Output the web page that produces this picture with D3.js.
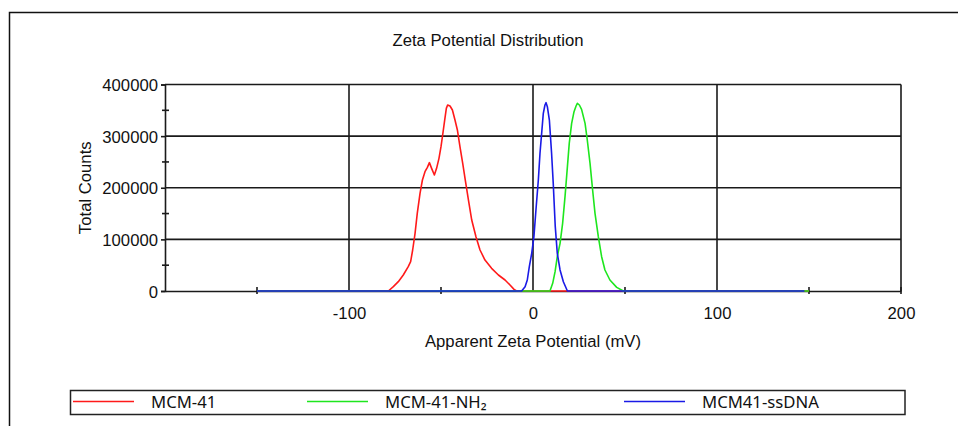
<!DOCTYPE html>
<html>
<head>
<meta charset="utf-8">
<script src="https://cdn.jsdelivr.net/npm/d3@7"></script>
<style>
	body { margin: 0; background: #fff; }
	svg { display: block; }
	.chart-text { font-family: "Liberation Sans", Arial, sans-serif; fill: #111; font-size: 16.7px; }
	.legend-text { font-family: "Noto Sans", "Open Sans", sans-serif; fill: #111; font-size: 16.7px; }
</style>
</head>
<body>
<div id="chart"></div>
<script>
// values
const seriesNames = ['MCM-41', 'MCM-41-NH\u2082', 'MCM41-ssDNA'];
const seriesColors = ['#ff1a1a', '#1ee61e', '#1a1ae6'];

const mcm41X = [-150, -78.6, -75.9, -73.2, -70.5, -67.8, -66.5, -65.4, -64.1, -62.9, -61.4, -60.1, -58.7, -57.4, -56.3,
	-55.1, -53.6, -52.4, -51.1, -50.0, -49.1, -48.0, -47.1, -46.4, -45.1, -43.8, -42.4, -41.1, -39.7, -38.2, -36.8,
	-35.1, -33.3, -31.0, -28.8, -26.1, -22.5, -18.8, -15.2, -12.5, -10.3, -8.9, 150];
const mcm41Y = [0, 0, 8400, 18100, 31000, 47100, 56800, 79400, 111700, 150400, 189200, 215000, 231100, 239500, 248600,
	237600, 224700, 237600, 257000, 279600, 302200, 331200, 353800, 360300, 358300, 350600, 331200, 311900, 279600, 247300, 215000,
	176300, 137500, 105200, 79400, 60000, 43900, 31000, 21300, 11600, 3200, 0, 0];

const nh2X = [-150, 9.2, 10.7, 12.0, 13.2, 14.7, 16.1, 17.4, 18.7, 19.7, 21.0, 22.3, 23.4, 24.1, 25.2, 26.4,
	28.3, 29.5, 31.0, 32.4, 33.7, 35.5, 37.3, 39.1, 41.8, 45.5, 49.1, 150];
const nh2Y = [0, 0, 14900, 37400, 66500, 92300, 131000, 182700, 240800, 286000, 324800, 347300, 358300, 363500, 360300, 351900,
	324800, 292500, 247300, 195600, 150500, 105200, 66400, 40700, 21300, 7100, 0, 0];

const ssdnaX = [-150, -6.2, -4.3, -3.1, -2.0, -0.7, 0.5, 1.6, 2.9, 3.8, 4.7, 5.6, 6.5, 7.1, 7.8, 8.9,
	10.1, 11.0, 12.1, 13.2, 14.7, 16.5, 18.7, 147.5];
const ssdnaY = [0, 0, 8400, 21300, 47100, 73000, 105200, 156900, 215000, 266700, 305400, 344200, 360300, 364800, 357000, 331200,
	266700, 208600, 124600, 73000, 40700, 18000, 0, 0];

const xTicks = [-100, 0, 100, 200];
const xMinorTicks = [-150, -50, 50, 150];
const yTicks = [0, 100000, 200000, 300000, 400000];
const yMinorTicks = [50000, 150000, 250000, 350000];

const width = 958;
const height = 426;
const plot = { left: 165, right: 901, top: 84.5, bottom: 291 };

const svg = d3.select('#chart').append('svg')
	.attr('width', width)
	.attr('height', height);

// outer frame (only top and left edges are visible)
svg.append('path')
	.attr('d', `M9.5,${height}V12.5H${width}`)
	.attr('fill', 'none')
	.attr('stroke', '#111')
	.attr('stroke-width', 1.5);

const x = d3.scaleLinear().domain([-200, 200]).range([plot.left, plot.right]);
const y = d3.scaleLinear().domain([0, 400000]).range([plot.bottom, plot.top]);

svg.append('text')
	.attr('class', 'chart-text')
	.attr('x', 488)
	.attr('y', 46)
	.attr('text-anchor', 'middle')
	.text('Zeta Potential Distribution');

// grid
const grid = svg.append('g')
	.attr('stroke', '#1a1a1a')
	.attr('stroke-width', 1.6);

grid.selectAll('line.h')
	.data(yTicks.filter(d => d > 0))
	.join('line')
	.attr('class', 'h')
	.attr('x1', plot.left)
	.attr('x2', plot.right)
	.attr('y1', d => y(d))
	.attr('y2', d => y(d));

grid.selectAll('line.v')
	.data(xTicks)
	.join('line')
	.attr('class', 'v')
	.attr('x1', d => x(d))
	.attr('x2', d => x(d))
	.attr('y1', plot.top)
	.attr('y2', plot.bottom);

// y axis
const yAxis = svg.append('g')
	.attr('transform', `translate(${plot.left},0)`)
	.call(d3.axisLeft(y).tickValues(yTicks).tickSize(4).tickPadding(3).tickFormat(d => String(d)));
yAxis.select('.domain').attr('stroke', '#1a1a1a').attr('stroke-width', 1.6);
yAxis.selectAll('.tick line').attr('stroke', '#1a1a1a').attr('stroke-width', 1.6);
yAxis.selectAll('.tick text')
	.attr('class', 'chart-text')
	.attr('dy', '0.36em');
yAxis.attr('font-family', null).attr('font-size', null);

svg.append('g')
	.selectAll('line')
	.data(yMinorTicks)
	.join('line')
	.attr('x1', plot.left - 3)
	.attr('x2', plot.left + 4)
	.attr('y1', d => y(d))
	.attr('y2', d => y(d))
	.attr('stroke', '#1a1a1a')
	.attr('stroke-width', 1.6);

// x axis
const xAxis = svg.append('g')
	.attr('transform', `translate(0,${plot.bottom})`)
	.call(d3.axisBottom(x).tickValues(xTicks).tickSize(0).tickPadding(16).tickFormat(d => String(d)));
xAxis.select('.domain').attr('stroke', '#1a1a1a').attr('stroke-width', 1.6);
xAxis.selectAll('.tick text').attr('class', 'chart-text');
xAxis.attr('font-family', null).attr('font-size', null);

svg.append('g')
	.selectAll('line')
	.data(xMinorTicks.concat([200]))
	.join('line')
	.attr('x1', d => x(d))
	.attr('x2', d => x(d))
	.attr('y1', plot.bottom - 4)
	.attr('y2', plot.bottom + 3)
	.attr('stroke', '#1a1a1a')
	.attr('stroke-width', 1.6);

svg.append('text')
	.attr('class', 'chart-text')
	.attr('x', x(0))
	.attr('y', 347)
	.attr('text-anchor', 'middle')
	.text('Apparent Zeta Potential (mV)');

svg.append('text')
	.attr('class', 'chart-text')
	.attr('transform', `translate(91,${(plot.top + plot.bottom) / 2}) rotate(-90)`)
	.attr('text-anchor', 'middle')
	.text('Total Counts');

// curves
const seriesData = [
	mcm41X.map((v, i) => [v, mcm41Y[i]]),
	nh2X.map((v, i) => [v, nh2Y[i]]),
	ssdnaX.map((v, i) => [v, ssdnaY[i]])
];

const line = d3.line()
	.x(d => x(d[0]))
	.y(d => y(d[1]));

svg.append('g')
	.selectAll('path')
	.data(seriesData)
	.join('path')
	.attr('d', line)
	.attr('fill', 'none')
	.attr('stroke', (d, i) => seriesColors[i])
	.attr('stroke-width', 1.6)
	.attr('stroke-linejoin', 'round');

// legend
const legend = svg.append('g');
legend.append('rect')
	.attr('x', 70.5)
	.attr('y', 390.5)
	.attr('width', 834.5)
	.attr('height', 24)
	.attr('fill', '#fff')
	.attr('stroke', '#222')
	.attr('stroke-width', 1.5);

const legendX = [73, 307, 624];
const items = legend.selectAll('g.item')
	.data(seriesNames)
	.join('g')
	.attr('class', 'item')
	.attr('transform', (d, i) => `translate(${legendX[i]},401.5)`);

items.append('line')
	.attr('x1', 0)
	.attr('x2', 61)
	.attr('stroke', (d, i) => seriesColors[i])
	.attr('stroke-width', 1.5);

items.append('text')
	.attr('class', 'legend-text')
	.attr('x', 78)
	.attr('y', 6)
	.text(d => d);
</script>
</body>
</html>
